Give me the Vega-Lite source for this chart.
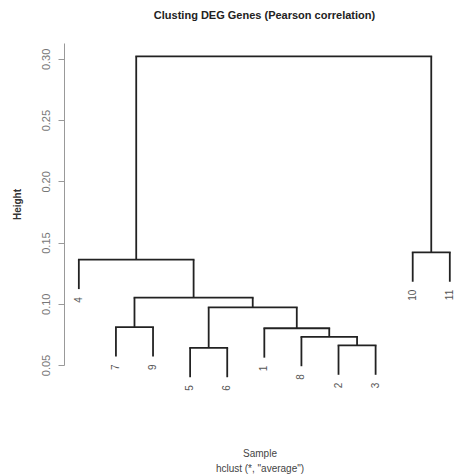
{
  "$schema": "https://vega.github.io/schema/vega-lite/v6.json",
  "autosize": "none",
  "width": 391,
  "height": 322,
  "padding": {"left": 64, "top": 43, "right": 0, "bottom": 110},
  "background": "white",
  "title": {
    "text": "Clusting DEG Genes (Pearson correlation)",
    "fontSize": 11,
    "fontWeight": "bold",
    "font": "Liberation Sans",
    "color": "#222",
    "anchor": "middle",
    "dx": 5,
    "offset": 22
  },
  "datasets": {
    "merges": [
      {"id": "m1", "xl": 8, "xr": 9, "yl": 0.042, "yr": 0.042, "h": 0.066},
      {"id": "m2", "xl": 7, "xr": 8.5, "yl": 0.049, "yr": 0.066, "h": 0.073},
      {"id": "m3", "xl": 6, "xr": 7.75, "yl": 0.056, "yr": 0.073, "h": 0.080},
      {"id": "m4", "xl": 4, "xr": 5, "yl": 0.040, "yr": 0.040, "h": 0.064},
      {"id": "m5", "xl": 4.5, "xr": 6.875, "yl": 0.064, "yr": 0.080, "h": 0.097},
      {"id": "m6", "xl": 2, "xr": 3, "yl": 0.057, "yr": 0.057, "h": 0.081},
      {"id": "m7", "xl": 2.5, "xr": 5.6875, "yl": 0.081, "yr": 0.097, "h": 0.105},
      {"id": "m8", "xl": 1, "xr": 4.09375, "yl": 0.112, "yr": 0.105, "h": 0.136},
      {"id": "m9", "xl": 10, "xr": 11, "yl": 0.118, "yr": 0.118, "h": 0.142},
      {"id": "m10", "xl": 2.546875, "xr": 10.5, "yl": 0.136, "yr": 0.142, "h": 0.302}
    ],
    "leaves": [
      {"label": "4", "x": 1, "bottom": 0.112},
      {"label": "7", "x": 2, "bottom": 0.057},
      {"label": "9", "x": 3, "bottom": 0.057},
      {"label": "5", "x": 4, "bottom": 0.040},
      {"label": "6", "x": 5, "bottom": 0.040},
      {"label": "1", "x": 6, "bottom": 0.056},
      {"label": "8", "x": 7, "bottom": 0.049},
      {"label": "2", "x": 8, "bottom": 0.042},
      {"label": "3", "x": 9, "bottom": 0.042},
      {"label": "10", "x": 10, "bottom": 0.118},
      {"label": "11", "x": 11, "bottom": 0.118}
    ]
  },
  "config": {
    "view": {"stroke": null},
    "font": "Liberation Sans"
  },
  "layer": [
    {
      "data": {"name": "merges"},
      "mark": {"type": "rule", "color": "#222", "strokeWidth": 1.8, "strokeCap": "square"},
      "encoding": {
        "x": {
          "field": "xl", "type": "quantitative",
          "scale": {"domain": [0.6, 11.14], "nice": false, "zero": false},
          "axis": {
            "title": ["Sample", "hclust (*, \"average\")"],
            "labels": false, "ticks": false, "domain": false, "grid": false,
            "titleFontSize": 10, "titleFontWeight": "normal", "titleColor": "#444",
            "titlePadding": 83, "titleLineHeight": 15
          }
        },
        "x2": {"field": "xr"},
        "y": {
          "field": "h", "type": "quantitative",
          "scale": {"domain": [0.05, 0.313], "nice": false, "zero": false},
          "axis": {
            "title": "Height",
            "values": [0.05, 0.10, 0.15, 0.20, 0.25, 0.30],
            "format": ".2f",
            "grid": false,
            "labelAngle": 270,
            "labelAlign": "center",
            "labelBaseline": "bottom",
            "labelFontSize": 11,
            "labelColor": "#777",
            "labelPadding": 7,
            "tickSize": 6,
            "tickColor": "#999",
            "domainColor": "#999",
            "titleFontSize": 10,
            "titleFontWeight": "bold",
            "titleColor": "#333",
            "titlePadding": 18
          }
        }
      }
    },
    {
      "data": {"name": "merges"},
      "mark": {"type": "rule", "color": "#222", "strokeWidth": 1.8},
      "encoding": {
        "x": {"field": "xl", "type": "quantitative"},
        "y": {"field": "yl", "type": "quantitative"},
        "y2": {"field": "h"}
      }
    },
    {
      "data": {"name": "merges"},
      "mark": {"type": "rule", "color": "#222", "strokeWidth": 1.8},
      "encoding": {
        "x": {"field": "xr", "type": "quantitative"},
        "y": {"field": "yr", "type": "quantitative"},
        "y2": {"field": "h"}
      }
    },
    {
      "data": {"name": "leaves"},
      "mark": {"type": "text", "angle": 270, "align": "right", "baseline": "middle", "fontSize": 10, "color": "#555", "yOffset": 8},
      "encoding": {
        "x": {"field": "x", "type": "quantitative"},
        "y": {"field": "bottom", "type": "quantitative"},
        "text": {"field": "label"}
      }
    }
  ]
}
